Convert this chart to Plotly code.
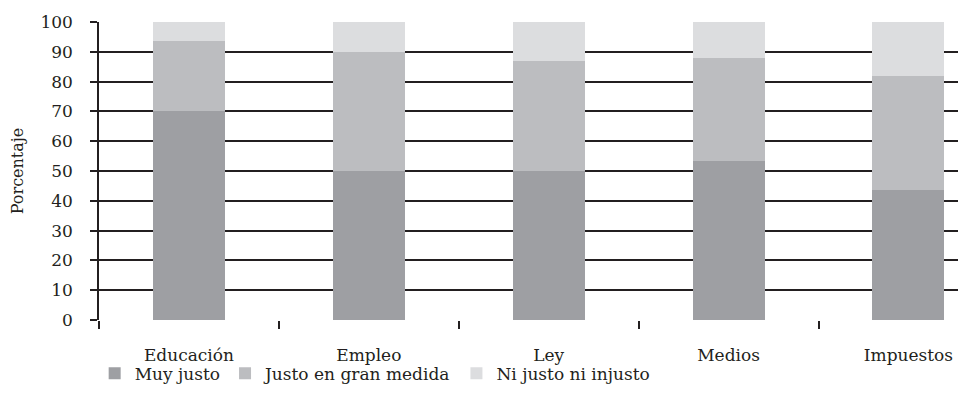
import plotly.graph_objects as go

categories = ["Educación", "Empleo", "Ley", "Medios", "Impuestos"]
muy_justo = [70, 50, 50, 53.5, 43.5]
justo_gran_medida = [23.5, 40, 37, 34.5, 38.5]
ni_justo_ni_injusto = [6.5, 10, 13, 12, 18]

series_names = ["Muy justo", "Justo en gran medida", "Ni justo ni injusto"]
series_colors = ["#9e9fa3", "#bcbdc0", "#dcdddf"]

FONT = "DejaVu Serif"

fig = go.Figure()
for name, values, color in zip(series_names, [muy_justo, justo_gran_medida, ni_justo_ni_injusto], series_colors):
    fig.add_trace(
        go.Bar(
            x=categories,
            y=values,
            name=name,
            marker=dict(color=color, line=dict(width=0)),
            width=0.4,
        )
    )

# the page has an 8px body margin, so the figure is drawn 8px smaller
fig.update_layout(
    barmode="stack",
    width=958,
    height=407,
    margin=dict(l=91, r=0, t=14, b=95),
    plot_bgcolor="white",
    paper_bgcolor="white",
    font=dict(family=FONT, size=17, color="#231f20"),
    showlegend=True,
    legend=dict(
        orientation="h",
        x=-0.005,
        xanchor="left",
        y=-0.18,
        yanchor="middle",
        bgcolor="rgba(0,0,0,0)",
        font=dict(size=17),
        itemwidth=30,
        traceorder="normal",
    ),
)

fig.update_xaxes(
    range=[-0.5, 4.32],
    tickson="boundaries",
    ticks="outside",
    ticklen=8,
    tickwidth=1.5,
    tickcolor="#231f20",
    ticklabelstandoff=23,
    showline=False,
    showgrid=False,
    zeroline=False,
)

fig.update_yaxes(
    range=[0, 100],
    dtick=10,
    ticks="outside",
    ticklen=7,
    tickwidth=1.5,
    tickcolor="#231f20",
    ticklabelstandoff=14,
    showline=True,
    linecolor="#231f20",
    linewidth=1.5,
    showgrid=True,
    gridcolor="#231f20",
    gridwidth=1.5,
    zeroline=False,
    title=dict(text="Porcentaje", font=dict(size=16), standoff=14),
    automargin=False,
)

fig.write_html("out.html")
